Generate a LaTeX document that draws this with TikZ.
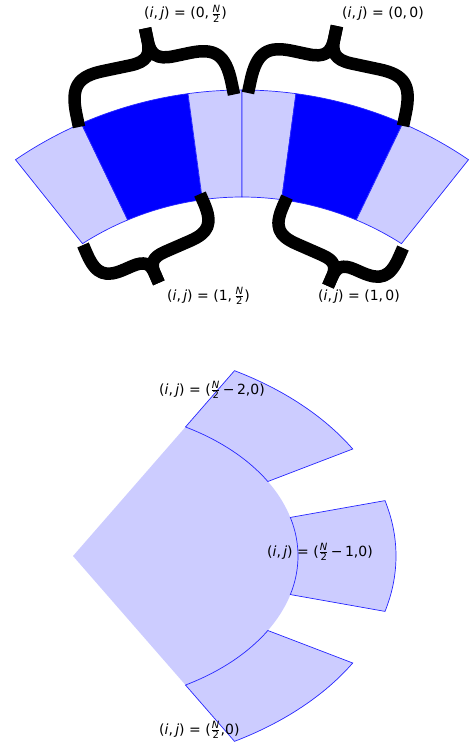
\documentclass[tikz,border=0pt]{standalone}
\usepackage{fontspec}
\setmainfont{DejaVu Sans}
\usetikzlibrary{positioning}

\newcommand{\halfN}{$\frac{\mbox{\fontsize{10}{10}\selectfont\itshape N}}{\mbox{\fontsize{10}{10}\selectfont 2}}$}
\newcommand{\pairij}{(\textit{i},\,\textit{j})}

\tikzset{
  bracestroke/.style={line width=12.5pt, black, line join=round},
  curly/.pic={
    \draw[bracestroke] (0,0) -- (0,0.15) .. controls (0,0.5) and (0.06,0.6) .. (0.22,0.6)
      -- (#1-0.14,0.6) .. controls (#1-0.03,0.6) and (#1,0.68) .. (#1,0.85) -- (#1,1);
    \draw[bracestroke] (#1,1) -- (#1,0.85) .. controls (#1,0.68) and (#1+0.03,0.6) .. (#1+0.14,0.6)
      -- (0.78,0.6) .. controls (0.94,0.6) and (1,0.5) .. (1,0.15) -- (1,0);
  }
}

\begin{document}
\begin{tikzpicture}[x=1pt, y=1pt,
  tile/.style={draw=blue!85, line width=0.7pt, fill=blue!20},
  tilehi/.style={draw=blue!85, line width=0.7pt, fill=blue},
  wedgefill/.style={fill=blue!20},
  lab/.style={anchor=base west, inner sep=0pt, font=\fontsize{14}{16}\selectfont}
]
\useasboundingbox (0,0) rectangle (468,-746);

% upper ring
\coordinate (C) at (242,-493);
\foreach \oa/\ob/\ia/\ib/\kind in {124.2/113.5/122.6/112.7/tile, 113.5/97.7/112.7/97.7/tilehi,
    97.7/90/97.7/90/tile, 90/82.3/90/82.3/tile, 82.3/66.5/82.3/67.3/tilehi, 66.5/55.8/67.3/57.4/tile}
  \draw[\kind] ([shift={(\oa:403)}]C) arc[start angle=\oa, end angle=\ob, radius=403]
    -- ([shift={(\ib:296)}]C) arc[start angle=\ib, end angle=\ia, radius=296] -- cycle;

% braces
\coordinate (b1) at (79,-127);
\coordinate (b2) at (248,-93);
\coordinate (b3) at (200,-194);
\coordinate (b4) at (403,-248);
\pic[shift={(b1)}, rotate=11.84, xscale=158.4, yscale=83] {curly=0.536};
\pic[shift={(b2)}, rotate=-12.0, xscale=158.5, yscale=84] {curly=0.461};
\pic[shift={(b3)}, rotate=203.55, xscale=127.6, yscale=65] {curly=0.574};
\pic[shift={(b4)}, rotate=156.3, xscale=126.7, yscale=65] {curly=0.421};

\node[lab] (l0h) at (144,-18) {\pairij{} = (0,\,\halfN)};
\node[lab] (l00) at (342,-18) {\pairij{} = (0,\,0)};
\node[lab] (l1h) at (167,-300) {\pairij{} = (1,\,\halfN)};
\node[lab] (l10) at (318,-300) {\pairij{} = (1,\,0)};

% lower fan
\coordinate (W) at (73,-556);
\fill[wedgefill] (W) -- ([shift={(60:225 and 149)}]W)
  arc[start angle=60, end angle=-60, x radius=225, y radius=149] -- cycle;
\foreach \ta/\tb in {30/60, -15/15, -60/-30}
  \draw[tile] ([shift={(\ta:225 and 149)}]W) arc[start angle=\ta, end angle=\tb, x radius=225, y radius=149]
    -- ([shift={(\tb:323 and 214)}]W) arc[start angle=\tb, end angle=\ta, x radius=323, y radius=214] -- cycle;

\node[lab] (lm2) at (159,-394) {\pairij{} = (\halfN\,−\,2,0)};
\node[lab] (lm1) at (267,-556) {\pairij{} = (\halfN\,−\,1,0)};
\node[lab] (lm0) at (159,-734) {\pairij{} = (\halfN,0)};
\end{tikzpicture}
\end{document}
